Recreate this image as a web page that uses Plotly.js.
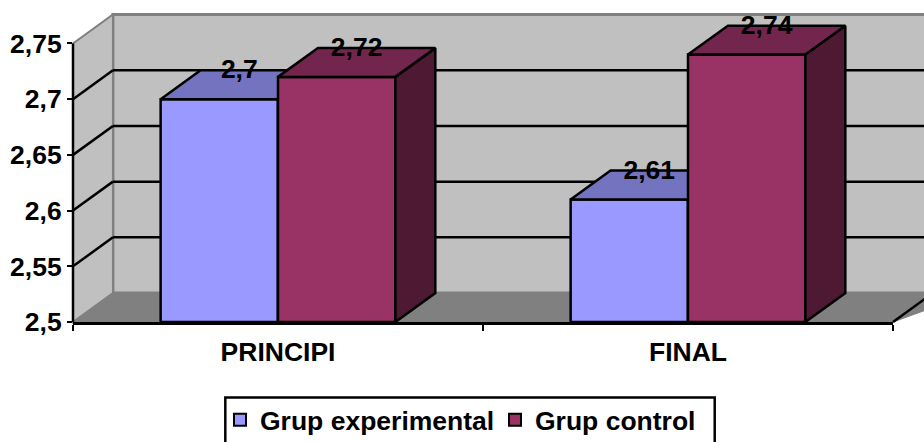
<!DOCTYPE html>
<html>
<head>
<meta charset="utf-8">
<script src="https://cdn.plot.ly/plotly-3.0.1.min.js"></script>
<style>html,body{margin:0;padding:0;background:#fff;overflow:hidden}</style>
</head>
<body>
<div id="chart" style="width:924px;height:442px"></div>
<script>
// ---- data ----
var categories = ["PRINCIPI", "FINAL"];
var seriesNames = ["Grup experimental", "Grup control"];
var experimental = [2.70, 2.61];
var control = [2.72, 2.74];
var experimentalLabels = ["2,7", "2,61"];
var controlLabels = ["2,72", "2,74"];
var yTickVals = [2.5, 2.55, 2.6, 2.65, 2.7, 2.75];
var yTickText = ["2,5", "2,55", "2,6", "2,65", "2,7", "2,75"];

// ---- styling / geometry ----
var FONT = "Liberation Sans, Arial, sans-serif";
var W = 924, H = 442, L = 72.5, R = 893.5, T = 14, B = 322.5;
var xRange = [-0.5, 1.5];
var pxPerY = 1116;
var yMin = 2.5, yMax = yMin + (B - T) / pxPerY;
var pxPerX = (R - L) / (xRange[1] - xRange[0]);
var depthPxX = 40, depthPxY = 29;
var DX = depthPxX / pxPerX, DY = depthPxY / pxPerY;
var barW = 117.5 / pxPerX, base = yMin;
var cX = categories.map(function (c, i) { return i; });
var fontBig = { family: FONT, size: 26.5, color: "#000", weight: "bold" };

function box(valueArr, side) {
  var tx = [], ty = [], sx = [], sy = [];
  valueArr.forEach(function (v, i) {
    var x0 = cX[i] + (side === 0 ? -barW : 0), x1 = x0 + barW;
    tx.push(x0, x0 + DX, x1 + DX, x1, x0, null);
    ty.push(v, v + DY, v + DY, v, v, null);
    sx.push(x1, x1 + DX, x1 + DX, x1, x1, null);
    sy.push(v, v + DY, base + DY, base, v, null);
  });
  return { tx: tx, ty: ty, sx: sx, sy: sy };
}
function poly(x, y, fill, ax) {
  return { type: "scatter", mode: "lines", x: x, y: y, fill: "toself", fillcolor: fill,
           line: { color: "#000", width: 2.5 }, showlegend: false, hoverinfo: "skip",
           xaxis: ax[0], yaxis: ax[1] };
}
var e = box(experimental, 0), c = box(control, 1);
var axA = ["x", "y"], axB = ["x2", "y2"];
var labelNudge = 1.5 / pxPerY;
var traces = [
  { type: "bar", name: seriesNames[0], x: cX.map(function (v) { return v - barW / 2; }),
    y: experimental.map(function (v) { return v - base; }), base: base, width: barW,
    marker: { color: "#9999FF", line: { color: "#000", width: 2.5 } }, xaxis: "x", yaxis: "y", hoverinfo: "skip" },
  poly(e.sx, e.sy, "#4D4D80", axA),
  poly(e.tx, e.ty, "#7373BF", axA),
  { type: "bar", name: seriesNames[1], x: cX.map(function (v) { return v + barW / 2; }),
    y: control.map(function (v) { return v - base; }), base: base, width: barW,
    marker: { color: "#993366", line: { color: "#000", width: 2.5 } }, xaxis: "x2", yaxis: "y2", hoverinfo: "skip" },
  poly(c.sx, c.sy, "#4D1933", axB),
  poly(c.tx, c.ty, "#73264D", axB),
  { type: "scatter", mode: "text", showlegend: false, hoverinfo: "skip", xaxis: "x2", yaxis: "y2",
    x: cX.map(function (v) { return v - barW / 2 + DX / 2; }).concat(cX.map(function (v) { return v + barW / 2 + DX / 2; })),
    y: experimental.concat(control).map(function (v) { return v + DY - labelNudge; }),
    text: experimentalLabels.concat(controlLabels), textposition: "middle center", textfont: fontBig, cliponaxis: false }
];

// ---- walls, floor, gridlines (paper refs so that they can run past the plot area) ----
var X0 = xRange[0], X1 = xRange[1];
function xp(x) { return (x - X0) / (X1 - X0); }
function yp(v) { return (v - yMin) / (yMax - yMin); }
function path(pts) { return "M" + pts.map(function (p) { return xp(p[0]) + "," + yp(p[1]); }).join("L") + "Z"; }
function wall(pts, fill, lineColor, w) {
  return { type: "path", xref: "paper", yref: "paper", layer: "below", path: path(pts), fillcolor: fill,
           line: { color: lineColor, width: w } };
}
function seg(x0, v0, x1, v1, color, w, layer) {
  return { type: "line", xref: "paper", yref: "paper", layer: layer || "below",
           x0: xp(x0), x1: xp(x1), y0: yp(v0), y1: yp(v1), line: { color: color, width: w } };
}
var farRight = X1 + 2 * DX;
var yTop = yTickVals[yTickVals.length - 1];
var yBackTop = yTop + DY;
var shapes = [
  wall([[X0 + DX, base + DY], [X0 + DX, yBackTop], [farRight, yBackTop], [farRight, base + DY]], "#C0C0C0", "#808080", 3),
  wall([[X0, base], [X0 + DX, base + DY], [X0 + DX, yBackTop], [X0, yTop]], "#C0C0C0", "#808080", 2),
  wall([[X0, base], [X0 + DX, base + DY], [farRight, base + DY], [X1, base]], "#808080", "#808080", 1)
];
yTickVals.slice(1, -1).forEach(function (v) {
  shapes.push(seg(X0 + DX, v + DY, farRight, v + DY, "#000", 2.5));
  shapes.push(seg(X0, v, X0 + DX, v + DY, "#000", 2.5));
});
shapes.push(seg(X1, base, X1 + DX, base + DY, "#000", 2.5));
shapes.push(seg(X0, base, X0, yTop, "#000", 2.5, "above"));
// legend frame, running past the bottom edge of the picture as in the reference
shapes.push({ type: "rect", xref: "paper", yref: "paper", layer: "below",
  x0: (225 - L) / (R - L), x1: (715 - L) / (R - L),
  y0: (B - 452) / (B - T), y1: (B - 398) / (B - T),
  fillcolor: "#fff", line: { color: "#000", width: 2.5 } });

var layout = {
  width: W, height: H, paper_bgcolor: "#fff", plot_bgcolor: "rgba(0,0,0,0)",
  margin: { l: L, r: W - R, t: T, b: H - B, pad: 0, autoexpand: false },
  showlegend: true,
  font: fontBig,
  shapes: shapes,
  xaxis: {
    range: xRange, tickmode: "array", tickvals: cX, ticktext: categories,
    ticks: "outside", ticklen: 5, tickcolor: "rgba(0,0,0,0)", tickfont: fontBig,
    showgrid: false, zeroline: false, showline: true, linecolor: "#000", linewidth: 2.5,
    minor: { tickmode: "array", tickvals: [-0.5, 0.5, 1.5], ticks: "outside", ticklen: 6, tickwidth: 2, tickcolor: "#000", showgrid: false }
  },
  yaxis: {
    range: [yMin, yMax], tickmode: "array", tickvals: yTickVals, ticktext: yTickText,
    ticks: "outside", ticklen: 5, tickwidth: 2, tickcolor: "#000", tickfont: fontBig,
    showgrid: false, zeroline: false, showline: false
  },
  xaxis2: { range: xRange, overlaying: "x", visible: false },
  yaxis2: { range: [yMin, yMax], overlaying: "y", visible: false },
  legend: {
    orientation: "h", xref: "container", yref: "container", x: 220 / W, y: 1 - 396 / H,
    xanchor: "left", yanchor: "top", bgcolor: "rgba(0,0,0,0)", borderwidth: 0,
    font: fontBig, traceorder: "normal", itemsizing: "constant",
    entrywidthmode: "pixels", entrywidth: 230
  }
};
Plotly.newPlot("chart", traces, layout, { displayModeBar: false, staticPlot: true });
</script>
</body>
</html>
